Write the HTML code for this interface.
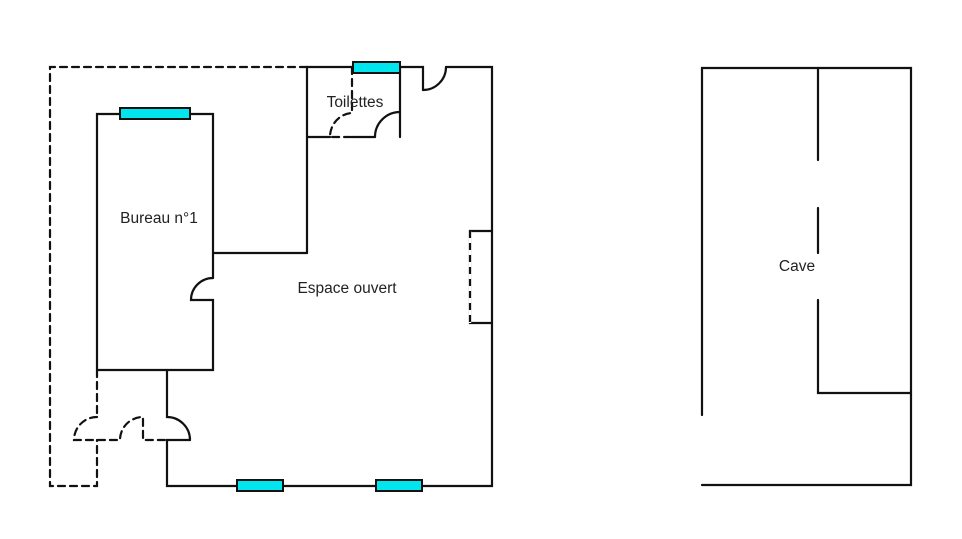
<!DOCTYPE html>
<html><head><style>
body{margin:0;background:#fff;}
svg{display:block}
text{font-family:"Liberation Sans",Arial,sans-serif;font-size:15.5px;fill:#222;text-anchor:middle}
</style></head><body>
<svg width="962" height="539" viewBox="0 0 962 539" xmlns="http://www.w3.org/2000/svg">
<g fill="none" stroke="#111" stroke-width="2.2" stroke-linecap="round">
<!-- dashed outer -->
<g stroke-dasharray="7,5">
<polyline points="307,67 50,67 50,486 97,486 97,440"/>
<line x1="97" y1="370" x2="97" y2="417"/>
<path d="M97,417 A23,23 0 0 0 74,440 L120,440 A23,23 0 0 1 143,417 L143,440 L167,440"/>
<path d="M352,67 L352,113 A23,24 0 0 0 330,137 L352,137"/>
</g>
<!-- main solid -->
<polyline points="307,253 307,67 423,67 423,90"/>
<path d="M423,90 A23,23 0 0 0 446,67"/>
<polyline points="446,67 492,67 492,486 167,486 167,440 190,440"/>
<path d="M190,440 A23,23 0 0 0 167,417 L167,370"/>
<line x1="400" y1="67" x2="400" y2="137"/>
<line x1="307" y1="137" x2="330" y2="137"/>
<line x1="352" y1="137" x2="375" y2="137"/>
<path d="M375,137 A25,25 0 0 1 400,112"/>
<polyline points="97,370 97,114 213,114 213,278"/>
<path d="M213,278 A22,22 0 0 0 191,300 L213,300 L213,370 L97,370"/>
<line x1="213" y1="253" x2="307" y2="253"/>
<polyline points="492,231 470,231 470,323 492,323"/>
<!-- cave -->
<polyline points="702,415 702,68 911,68 911,485 702,485"/>
<line x1="818" y1="68" x2="818" y2="160"/>
<line x1="818" y1="208" x2="818" y2="253"/>
<polyline points="818,300 818,393 911,393"/>
</g>
<g fill="#00e5ee" stroke="#111" stroke-width="2">
<rect x="353" y="62" width="47" height="11"/>
<rect x="120" y="108" width="70" height="11"/>
<rect x="237" y="480" width="46" height="11"/>
<rect x="376" y="480" width="46" height="11"/>
</g>
<line x1="470" y1="231" x2="470" y2="323" stroke="#fff" stroke-width="2.4" stroke-dasharray="0,0"/>
<line x1="470" y1="231" x2="470" y2="323" stroke="#111" stroke-width="2.2" stroke-dasharray="7,5"/>
<text x="355" y="107">Toilettes</text>
<text x="159" y="223">Bureau n°1</text>
<text x="347" y="293">Espace ouvert</text>
<text x="797" y="271">Cave</text>
</svg>
</body></html>
